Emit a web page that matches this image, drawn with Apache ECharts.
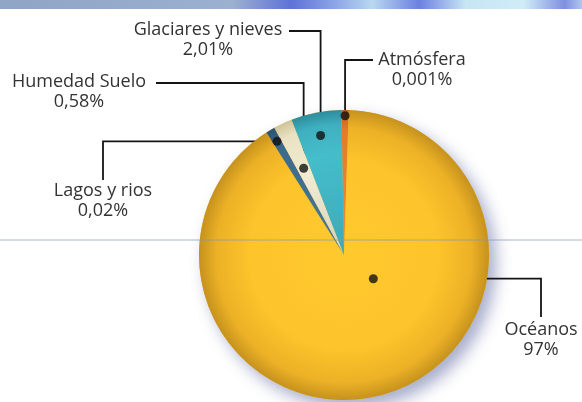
<!DOCTYPE html>
<html>
<head>
<meta charset="utf-8">
<script src="https://cdn.jsdelivr.net/npm/echarts@6/dist/echarts.min.js"></script>
<style>html,body{margin:0;padding:0;background:#fff}#c{width:582px;height:402px}</style>
</head>
<body>
<div id="c"></div>
<script>
// ---- data ----
const categories = ['Atmósfera', 'Océanos', 'Lagos y rios', 'Humedad Suelo', 'Glaciares y nieves'];
// share of the circle as drawn in the picture (the drawing is not to scale)
const sliceShares = [0.8, 90.5, 1.0, 2.1, 5.6];
// percentages printed on the labels
const percentLabels = ['0,001%', '97%', '0,02%', '0,58%', '2,01%'];

// ---- layout / style ----
const CX = 344, CY = 255, R = 145, START = 91;
const total = sliceShares.reduce((a, b) => a + b, 0);
// anchor dot: [radius fraction, fraction along the slice]
const anchorSpec = [[0.96, 0.5], [0.26, 0.39], [0.91, 0.5], [0.66, 0.5], [0.84, 0.5]];
// leader routing and label box (center x, top y)
const labelSpec = [
  { dir: 'v', elbow: 60, end: [373, 60], cx: 422, top: 50 },
  { dir: 'h', elbow: 541, end: [541, 317], cx: 541, top: 320 },
  { dir: 'h', elbow: 103, end: [103, 180], cx: 103, top: 181 },
  { dir: 'v', elbow: 83, end: [156, 83], cx: 79, top: 72 },
  { dir: 'v', elbow: 31, end: [289, 31], cx: 208, top: 20 }
];
const FONT = 'Open Sans';

function anchorPos(i) {
  let cum = 0;
  for (let k = 0; k < i; k++) cum += sliceShares[k];
  return cum + anchorSpec[i][1] * sliceShares[i];
}
function anchorPoint(i) {
  const th = (START - anchorPos(i) / total * 360) * Math.PI / 180;
  const r = anchorSpec[i][0] * R;
  return [CX + r * Math.cos(th), CY - r * Math.sin(th)];
}

function radial(stops) {
  return { type: 'radial', x: CX, y: CY, r: R, global: true,
    colorStops: stops.map(s => ({ offset: s[0], color: s[1] })) };
}
const sliceColors = [
  radial([[0, '#F08A34'], [0.85, '#E47C2A'], [1, '#C2621C']]),
  radial([[0, '#FFCA2E'], [0.65, '#FDC42B'], [0.88, '#ECB126'], [1, '#C6921E']]),
  radial([[0, '#4A7A98'], [0.85, '#3C6A8A'], [1, '#2E5570']]),
  radial([[0, '#D8D2B8'], [0.6, '#F0EBD2'], [0.9, '#EAE2C2'], [1, '#CFC39A']]),
  radial([[0, '#3CA9B8'], [0.7, '#45BDCB'], [0.9, '#3FB0C0'], [1, '#2D8C9C']])
];

const chart = echarts.init(document.getElementById('c'), null, { renderer: 'canvas' });
const option = {
  animation: false,
  backgroundColor: '#ffffff',
  polar: { center: [CX, CY], radius: R },
  angleAxis: { type: 'value', min: 0, max: total, startAngle: START, clockwise: true, show: false },
  radiusAxis: { type: 'value', min: 0, max: 1, show: false },
  graphic: [
    { type: 'rect', z: 100, shape: { x: 0, y: 0, width: 582, height: 9 },
      style: { fill: { type: 'linear', x: 0, y: 0, x2: 1, y2: 0, colorStops: [
        { offset: 0, color: '#8FA5C6' }, { offset: 0.4, color: '#9CB0D0' },
        { offset: 0.5, color: '#5E72D8' }, { offset: 0.58, color: '#8FA8E8' },
        { offset: 0.64, color: '#B8D8F0' }, { offset: 0.72, color: '#6C80E0' },
        { offset: 0.8, color: '#C6E6F4' }, { offset: 0.9, color: '#D0ECF6' },
        { offset: 0.97, color: '#7F8FE0' }, { offset: 1, color: '#B0C8F0' }] } } },
    { type: 'line', z: 100, shape: { x1: 0, y1: 240, x2: 582, y2: 240 },
      style: { stroke: 'rgba(125,155,180,0.7)', lineWidth: 1 } }
  ],
  series: [
    {
      type: 'pie', center: [CX, CY], radius: R, silent: true, z: 1,
      label: { show: false }, labelLine: { show: false },
      data: [{ value: total, itemStyle: { color: '#E8B424', shadowBlur: 16, shadowOffsetX: 7, shadowOffsetY: 8, shadowColor: 'rgba(60,70,140,0.45)' } }]
    },
    {
      type: 'pie', center: [CX, CY], radius: R, startAngle: START, clockwise: true, z: 2,
      avoidLabelOverlap: false, silent: true,
      data: categories.map((c, i) => ({ name: c, value: sliceShares[i], itemStyle: { color: sliceColors[i] } })),
      label: {
        show: true, position: 'outside',
        formatter: p => p.name + '\n' + percentLabels[p.dataIndex],
        color: '#333333', fontFamily: FONT, fontSize: 18, lineHeight: 20, align: 'center'
      },
      labelLine: { show: true, lineStyle: { color: '#151515', width: 1.8 } },
      labelLayout: function (params) {
        const i = params.dataIndex;
        const a = anchorPoint(i);
        const L = labelSpec[i];
        const corner = L.dir === 'v' ? [a[0], L.elbow] : [L.elbow, a[1]];
        return { x: L.cx, y: L.top, align: 'center', verticalAlign: 'top', labelLinePoints: [a, corner, L.end] };
      }
    },
    {
      type: 'scatter', coordinateSystem: 'polar', z: 3, silent: true,
      symbolSize: 9, itemStyle: { color: '#111111' },
      data: categories.map((c, i) => [anchorSpec[i][0], anchorPos(i)])
    }
  ]
};
chart.setOption(option);
</script>
</body>
</html>
